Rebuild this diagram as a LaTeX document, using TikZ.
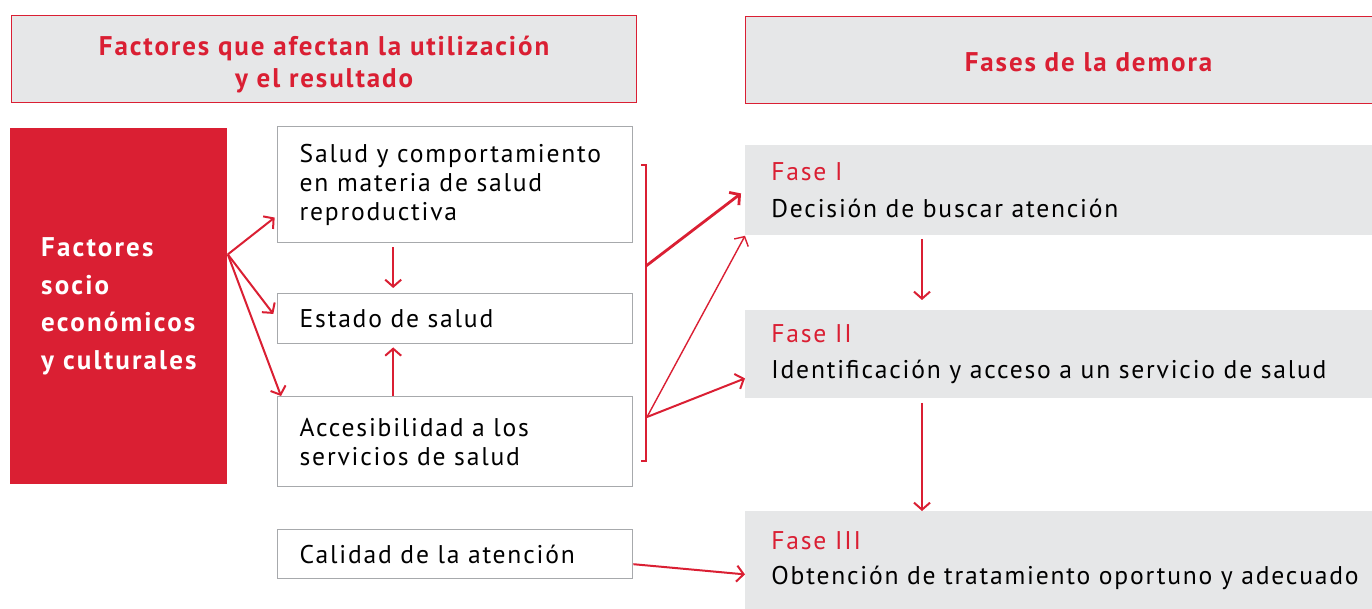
\documentclass[tikz,border=0pt]{standalone}
\usepackage{fontspec}
\setmainfont{PT Sans}
\newfontfamily\demorafont[LetterSpace=7]{PT Sans}
\newfontfamily\sociofont[LetterSpace=8]{PT Sans}
\usetikzlibrary{arrows.meta}

\definecolor{demorared}{HTML}{DA1F33}
\definecolor{demoragray}{HTML}{E6E7E8}
\definecolor{boxgray}{HTML}{A7A9AC}

\tikzset{
  header/.style={draw=demorared, line width=0.6pt, fill=demoragray, anchor=north west, inner sep=0pt},
  headertext/.style={text=demorared, font=\demorafont\bfseries\fontsize{13.5}{16}\selectfont,
    align=center, inner sep=0pt},
  socio/.style={fill=demorared, text=white, font=\sociofont\bfseries\fontsize{13.5}{18.7}\selectfont,
    align=left, anchor=north west, inner sep=0pt},
  factor/.style={draw=boxgray, line width=0.7pt, anchor=north west, align=left,
    inner xsep=11pt, text width=155.5pt, font=\demorafont\fontsize{12.8}{14.5}\selectfont},
  fase/.style={fill=demoragray, anchor=north west, align=left, inner xsep=13pt,
    text width=330pt, font=\demorafont\fontsize{12.8}{14.5}\selectfont},
  arr/.style={demorared, line width=1pt, -{Straight Barb[length=3.5pt,width=8pt]}},
}

\begin{document}
\begin{tikzpicture}[x=0.5pt, y=-0.5pt]

        % Frame
        \clip (0,0) rectangle (1372,609);

        % Headers
        \node[header, minimum width=312.5pt, minimum height=43.5pt] (hfactores) at (11,15) {};
        \node[headertext] (hfactorestxt) at ([yshift=-2.5pt]hfactores.center)
          {Factores que afectan la utilización\\y el resultado};
        \node[header, minimum width=343pt, minimum height=43.5pt] (hfases) at (745,16) {};
        \node[headertext] (hfasestxt) at ([yshift=-1pt]hfases.center) {Fases de la demora};

        % Socio-economic block
        \node[socio, minimum width=108.5pt, minimum height=178pt] (socio) at (10,128)
          {Factores\\socio\\económicos\\y culturales};

        % Factor boxes
        \node[factor, minimum height=58pt] (salud) at (277,126)
          {Salud y comportamiento\\en materia de salud\\reproductiva};
        \node[factor, minimum height=25pt] (estado) at (277,293) {Estado de salud};
        \node[factor, minimum height=45pt] (acceso) at (277,396)
          {Accesibilidad a los\\servicios de salud};
        \node[factor, minimum height=24.5pt] (calidad) at (277,529) {Calidad de la atención};

        % Phases
        \node[fase, minimum height=45pt] (fase1) at (745,145)
          {\textcolor{demorared}{Fase I}\\[4pt]Decisión de buscar atención};
        \node[fase, minimum height=44pt] (fase2) at (745,310)
          {\textcolor{demorared}{Fase II}\\[3.5pt]Identificación y acceso a un servicio de salud};
        \node[fase, minimum height=49pt] (fase3) at (745,511)
          {\textcolor{demorared}{Fase III}\\[3pt]Obtención de tratamiento oportuno y adecuado};

        % Bracket
        \draw[demorared, line width=0.8pt] (641,165) -- (646,165) -- (646,461) -- (641,461);
        \coordinate (brtop) at (646,266);
        \coordinate (brbot) at (647,417);
        \coordinate (fan) at ([yshift=26pt]socio.east);

        % Arrows
        \draw[arr, shorten >=1.5pt] (fan) -- ([yshift=-15.5pt]salud.west);
        \draw[arr, shorten >=3pt] (fan) -- (estado.west);
        \draw[arr] (fan) -- ([xshift=2pt]acceso.north west);
        \draw[arr, shorten <=2pt, shorten >=2.5pt] ([xshift=-31pt]salud.south) -- ([xshift=-31pt]estado.north);
        \draw[arr, shorten >=1.5pt] ([xshift=-31pt]acceso.north) -- ([xshift=-31pt]estado.south);
        \draw[arr, line width=1.4pt, shorten >=2.5pt] (brtop) -- (fase1.west);
        \draw[arr, line width=0.7pt] (brbot) -- (fase1.south west);
        \draw[arr] (brbot) -- ([yshift=-12pt]fase2.west);
        \draw[arr, shorten <=1.5pt, shorten >=5pt] ([xshift=88.5pt]fase1.south west) -- ([xshift=88.5pt]fase2.north west);
        \draw[arr, shorten <=2pt] ([xshift=88.5pt]fase2.south west) -- ([xshift=88.5pt]fase3.north west);
        \draw[arr] ([yshift=-5pt]calidad.east) -- ([yshift=-7pt]fase3.west);

\end{tikzpicture}
\end{document}
